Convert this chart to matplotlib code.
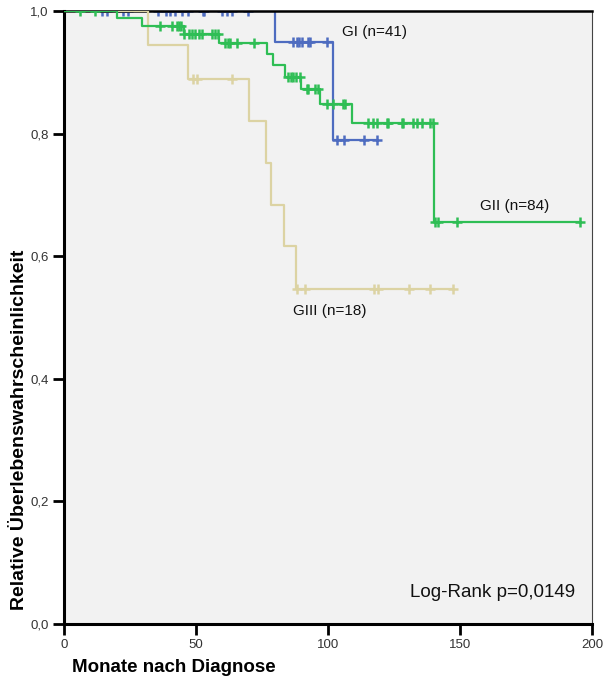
import numpy as np
import matplotlib
matplotlib.use("Agg")
import matplotlib.pyplot as plt

plt.rcParams['font.family'] = ['Liberation Sans', 'DejaVu Sans']

# ---- data ----
# GI (n=41)
gi_event_t = [79.9, 102.0]
gi_event_s = [0.949, 0.790]
gi_cens_t = [14.3, 16.2, 22.2, 24.1, 35.5, 38.6, 40.2, 42.0, 44.6, 46.9, 52.5, 53.2,
             60.0, 61.6, 63.5, 69.8, 86.9, 88.1, 89.1, 90.0, 92.3, 93.2, 99.5,
             103.3, 106.1, 113.6, 118.4]

# GII (n=84)
gii_event_t = [20.0, 29.7, 45.3, 58.9, 76.8, 79.3, 83.7, 89.8, 96.8, 109.0, 140.2]
gii_event_s = [0.988, 0.976, 0.963, 0.947, 0.930, 0.912, 0.893, 0.873, 0.848, 0.817, 0.656]
gii_cens_t = [6.1, 11.7, 36.4, 40.8, 42.7, 43.5, 44.5, 45.4, 47.3, 48.6, 49.6, 51.1,
              52.4, 56.2, 57.2, 58.5, 61.1, 62.0, 63.0, 65.4, 72.1, 84.9, 86.0, 86.8,
              88.0, 89.4, 91.9, 92.3, 95.1, 96.3, 99.5, 102.0, 105.8, 106.3, 115.3,
              117.2, 118.4, 122.2, 122.8, 127.9, 128.5, 132.3, 133.6, 135.5, 138.6,
              139.9, 140.6, 141.6, 148.7, 195.5]

# GIII (n=18)
giii_event_t = [32.0, 46.8, 70.0, 76.5, 78.3, 83.3, 87.9]
giii_event_s = [0.944, 0.889, 0.821, 0.752, 0.684, 0.616, 0.547]
giii_cens_t = [48.7, 50.2, 63.5, 88.2, 91.3, 117.5, 119.1, 130.8, 138.6, 147.2]

group_labels = ["GI (n=41)", "GII (n=84)", "GIII (n=18)"]
pvalue_text = "Log-Rank p=0,0149"
x_ticks = [0, 50, 100, 150, 200]
y_ticks = [0.0, 0.2, 0.4, 0.6, 0.8, 1.0]
x_label = "Monate nach Diagnose"
y_label = "Relative Überlebenswahrscheinlichkeit"

# ---- figure ----
fig = plt.figure(figsize=(6.05, 6.84), dpi=100)
ax = fig.add_axes([64/605, 60/684, 528/605, 613/684])
ax.set_facecolor('#f2f2f2')


def km_curve(ev_t, ev_s, cens_t):
    end = max(max(cens_t), max(ev_t))
    t = np.concatenate([[0.0], ev_t, [end]])
    s = np.concatenate([[1.0], ev_s, [ev_s[-1]]])
    # level of each censoring mark = curve level at that time
    ct = np.asarray(cens_t)
    idx = np.searchsorted(np.asarray(ev_t), ct, side='right')
    levels = np.concatenate([[1.0], ev_s])[idx]
    return t, s, ct, levels


curves = [
    (gi_event_t, gi_event_s, gi_cens_t, '#4e6cc0', 2),
    (giii_event_t, giii_event_s, giii_cens_t, '#dcd3a3', 3),
    (gii_event_t, gii_event_s, gii_cens_t, '#2fbe55', 4),
]
for ev_t, ev_s, c_t, col, z in curves:
    t, s, ct, lv = km_curve(ev_t, ev_s, c_t)
    ax.step(t, s, where='post', color=col, lw=1.6, zorder=z)
    ax.plot(ct, lv, linestyle='none', marker='+', ms=7, mew=1.8, color=col, zorder=z)

ax.set_xlim(0, 200)
ax.set_ylim(0, 1.0)
ax.set_xticks(x_ticks)
ax.set_xticklabels([str(v) for v in x_ticks])
ax.set_yticks(y_ticks)
ax.set_yticklabels([f"{v:.1f}".replace('.', ',') for v in y_ticks])
ax.tick_params(axis='both', direction='out', length=8, width=2, color='black',
               labelsize=9.5, labelcolor='#333333', pad=3)

for side in ['left', 'bottom']:
    ax.spines[side].set_linewidth(2.2)
    ax.spines[side].set_color('black')
ax.spines['top'].set_linewidth(1.8)
ax.spines['top'].set_color('black')
ax.spines['right'].set_linewidth(0.8)
ax.spines['right'].set_color('#444444')

ax.text(105.2, 0.966, group_labels[0], fontsize=11, ha='left', va='center', color='#111111')
ax.text(157.6, 0.682, group_labels[1], fontsize=11, ha='left', va='center', color='#111111')
ax.text(86.6, 0.510, group_labels[2], fontsize=11, ha='left', va='center', color='#111111')
ax.text(193.6, 0.0507, pvalue_text, fontsize=13.5, ha='right', va='center', color='#111111')

fig.text(72/605, 1 - 668/684, x_label, fontsize=13.5, fontweight='bold', ha='left', va='center')
fig.text(20/605, 1 - 430/684, y_label, fontsize=14, fontweight='bold', ha='center',
         va='center', rotation=90)

fig.savefig('out.png', dpi=100, facecolor='white')
